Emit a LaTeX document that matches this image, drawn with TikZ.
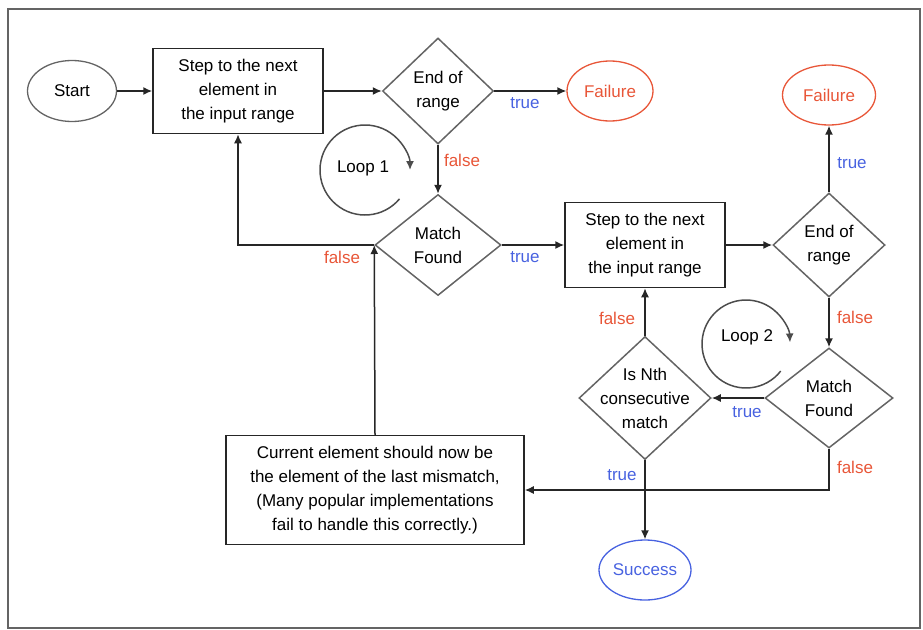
\documentclass[tikz,border=0pt]{standalone}
\usepackage{fontspec}
\setmainfont{Liberation Sans}
\usetikzlibrary{shapes.geometric,arrows.meta}
\definecolor{fred}{RGB}{232,86,56}
\definecolor{tblue}{RGB}{72,98,224}
\definecolor{dgray}{RGB}{100,100,100}
\begin{document}
\begin{tikzpicture}[x=1pt,y=-1pt,
 every node/.style={font=\fontsize{17}{24}\selectfont},
 term/.style={ellipse,draw=dgray,line width=1.3pt,inner sep=0pt},
 procbox/.style={rectangle,draw=black!85,line width=1.5pt,align=center,inner sep=0pt},
 decision/.style={diamond,draw=dgray,line width=1.5pt,inner sep=0pt},
 dtext/.style={align=center,inner sep=0pt},
 flow/.style={draw=black!85,line width=1.5pt,-{Latex[length=9pt,width=8pt]}},
 tlab/.style={text=tblue,inner sep=0pt},
 flab/.style={text=fred,inner sep=0pt},
 loopc/.style={draw=black!70,line width=1.5pt,-{Latex[length=9pt,width=8pt]}}
]
\useasboundingbox (0,0) rectangle (923,629);
\draw[dgray,line width=1.5pt] (8,9) rectangle (920,628);

% nodes
\node[term,minimum width=89pt,minimum height=61pt] (start) at (72,91) {Start};
\node[procbox,minimum width=170pt,minimum height=85pt] (box1) at (238,91) {Step to the next\\element in\\the input range};
\node[decision,minimum width=111pt,minimum height=106pt] (d1) at (438,91) {};
\node[dtext] (d1t) at (d1.center) {End of\\range};
\node[term,draw=fred,text=fred,minimum width=86pt,minimum height=60pt] (fail1) at (610,91) {Failure};
\node[decision,minimum width=126pt,minimum height=101pt] (d2) at (438,245) {};
\node[dtext] (d2t) at (d2.center) {Match\\Found};
\node[procbox,minimum width=160pt,minimum height=85pt] (box2) at (645,245) {Step to the next\\element in\\the input range};
\node[decision,minimum width=112pt,minimum height=104pt] (d3) at (829,245) {};
\node[dtext] (d3t) at (d3.center) {End of\\range};
\node[term,draw=fred,text=fred,minimum width=93pt,minimum height=60pt] (fail2) at (829,95) {Failure};
\node[decision,minimum width=128pt,minimum height=100pt] (d4) at (829,398) {};
\node[dtext] (d4t) at (d4.center) {Match\\Found};
\node[decision,minimum width=132pt,minimum height=123pt] (d5) at (645,398) {};
\node[dtext] (d5t) at (d5.center) {Is Nth\\consecutive\\match};
\node[term,draw=tblue,text=tblue,minimum width=92pt,minimum height=60pt] (success) at (645,570) {Success};
\node[procbox,minimum width=298pt,minimum height=109pt] (box3) at (375,490) {Current element should now be\\the element of the last mismatch,\\(Many popular implementations\\fail to handle this correctly.)};

% connectors
\draw[flow] (start.east) -- (box1.west);
\draw[flow] (box1.east) -- (d1.west);
\draw[flow] (d1.east) -- (fail1.west);
\draw[flow] (d1.south) -- (d2.north);
\draw[flow] (d2.west) -| (box1.south);
\draw[flow] (box3.north) -- (d2.west);
\draw[flow] (d2.east) -- (box2.west);
\draw[flow] (box2.east) -- (d3.west);
\draw[flow] (d3.north) -- (fail2.south);
\draw[flow] (d3.south) -- (d4.north);
\draw[flow] (d4.west) -- (d5.east);
\draw[flow] (d5.north) -- (box2.south);
\draw[flow] (d5.south) -- (success.north);
\draw[flow] (d4.south) |- (box3.east);

% labels
\node[tlab] (t1) at (525,103) {true};
\node[flab] (f1) at (462,160) {false};
\node[flab] (f2) at (342,257) {false};
\node[tlab] (t2) at (525,257) {true};
\node[tlab] (t3) at (852,163) {true};
\node[flab] (f3) at (855,317) {false};
\node[tlab] (t4) at (747,412) {true};
\node[flab] (f4) at (617,318) {false};
\node[tlab] (t5) at (622,475) {true};
\node[flab] (f5) at (855,467) {false};

% loops
\draw[loopc] (365,170) ++(40:45) arc[start angle=40,end angle=360,radius=45];
\node (l1) at (363,168) {Loop 1};
\draw[loopc] (746,344) ++(38:44) arc[start angle=38,end angle=358,radius=44];
\node (l2) at (747,337) {Loop 2};
\end{tikzpicture}
\end{document}
